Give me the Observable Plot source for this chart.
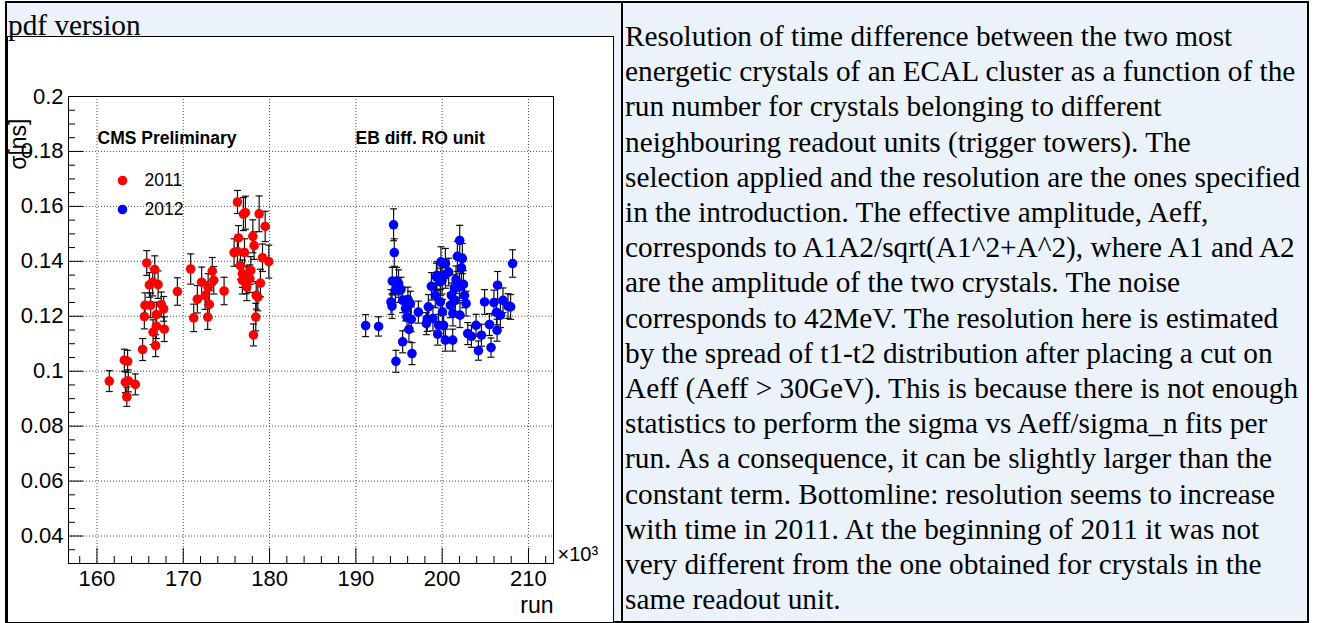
<!DOCTYPE html>
<html>
<head>
<meta charset="utf-8">
<script src="https://cdn.jsdelivr.net/npm/d3@7"></script>
<script src="https://cdn.jsdelivr.net/npm/@observablehq/plot@0.6"></script>
<style>
  html, body { margin: 0; padding: 0; background: #ffffff; width: 1319px; height: 623px; overflow: hidden; }
  #outer { position: absolute; left: 5px; top: 1px; width: 1304px; height: 622px; box-sizing: border-box;
           border: 2px solid #000; background: #ebf2fa; }
  #divider { position: absolute; left: 621px; top: 1px; width: 2px; height: 622px; background: #000; }
  #pdf { position: absolute; left: 8px; top: 8px; font-family: "Liberation Serif", "Times New Roman", serif;
         font-size: 29.3px; line-height: 35.2px; color: #000; white-space: nowrap; }
  #img { position: absolute; left: 7px; top: 36px; width: 607px; height: 587px; box-sizing: border-box;
         border: 1px solid #000; background: #fff; }
  #chart { position: absolute; left: 8px; top: 37px; width: 605px; height: 584px; }
  #desc { position: absolute; left: 625px; top: 19px; font-family: "Liberation Serif", "Times New Roman", serif;
          font-size: 29.3px; line-height: 35.2px; color: #000; white-space: nowrap; }
</style>
</head>
<body>
<div id="outer"></div>
<div id="divider"></div>
<div id="img"></div>
<div id="chart"></div>
<div id="pdf">pdf version</div>
<div id="desc">Resolution of time difference between the two most<br>energetic crystals of an ECAL cluster as a function of the<br>run number for crystals belonging to different<br>neighbouring readout units (trigger towers). The<br>selection applied and the resolution are the ones specified<br>in the introduction. The effective amplitude, Aeff,<br>corresponds to A1A2/sqrt(A1^2+A^2), where A1 and A2<br>are the amplitude of the two crystals. The noise<br>corresponds to 42MeV. The resolution here is estimated<br>by the spread of t1-t2 distribution after placing a cut on<br>Aeff (Aeff &gt; 30GeV). This is because there is not enough<br>statistics to perform the sigma vs Aeff/sigma_n fits per<br>run. As a consequence, it can be slightly larger than the<br>constant term. Bottomline: resolution seems to increase<br>with time in 2011. At the beginning of 2011 it was not<br>very different from the one obtained for crystals in the<br>same readout unit.</div>
<script>
// ---- Data (run numbers in units of 10^3) ----
const run2011 = [161.43,163.17,163.55,163.29,163.63,163.46,164.44,165.29,165.49,165.57,165.77,166.07,166.22,166.46,166.50,166.69,166.80,166.88,166.88,167.08,167.46,167.73,167.80,169.32,170.86,171.21,171.63,172.13,172.53,172.83,172.88,173.02,173.36,173.53,174.73,175.89,176.28,176.28,176.39,176.62,176.85,176.85,176.97,177.09,177.20,177.28,177.36,177.71,177.82,178.06,178.13,178.21,178.40,178.45,178.64,178.79,178.94,179.18,179.49,179.91];
const sigma2011 = [0.0964,0.1040,0.1036,0.0960,0.0965,0.0907,0.0952,0.1079,0.1199,0.1240,0.1394,0.1314,0.1240,0.1324,0.1142,0.1370,0.1093,0.1206,0.1164,0.1315,0.1243,0.1227,0.1153,0.1290,0.1372,0.1194,0.1262,0.1324,0.1275,0.1197,0.1305,0.1243,0.1364,0.1331,0.1292,0.1432,0.1616,0.1436,0.1485,0.1384,0.1355,0.1331,0.1572,0.1432,0.1577,0.1332,0.1307,0.1337,0.1367,0.1491,0.1132,0.1457,0.1197,0.1276,0.1270,0.1573,0.1321,0.1413,0.1527,0.1399];
const err2011 = [0.0038,0.0040,0.0040,0.0038,0.0040,0.0035,0.0038,0.0040,0.0045,0.0045,0.0045,0.0045,0.0045,0.0050,0.0045,0.0050,0.0040,0.0045,0.0045,0.0050,0.0045,0.0045,0.0045,0.0050,0.0055,0.0050,0.0050,0.0055,0.0050,0.0045,0.0050,0.0050,0.0050,0.0050,0.0050,0.0050,0.0042,0.0050,0.0045,0.0050,0.0050,0.0050,0.0060,0.0050,0.0060,0.0050,0.0050,0.0050,0.0050,0.0060,0.0040,0.0050,0.0050,0.0050,0.0050,0.0065,0.0050,0.0050,0.0055,0.0060];

const run2012 = [191.13,192.63,194.07,194.19,194.22,194.37,194.45,194.57,194.64,194.72,194.95,195.23,195.42,195.42,195.76,195.92,196.03,196.15,196.31,196.42,196.50,197.24,198.17,198.28,198.40,198.75,198.93,199.20,199.33,199.40,199.48,199.59,199.79,199.79,199.86,199.99,200.03,200.17,200.37,200.37,200.37,200.76,200.95,201.07,201.22,201.24,201.42,201.53,201.60,201.76,202.00,202.03,202.06,202.23,202.34,202.46,202.58,202.77,202.96,203.39,203.93,204.20,204.55,204.91,205.48,205.66,206.00,206.29,206.36,206.42,206.75,207.05,207.63,207.93,208.16];
const sigma2012 = [0.1166,0.1163,0.1252,0.1237,0.1328,0.1533,0.1432,0.1295,0.1036,0.1328,0.1319,0.1297,0.1258,0.1107,0.1228,0.1197,0.1261,0.1152,0.1246,0.1189,0.1064,0.1215,0.1173,0.1190,0.1234,0.1309,0.1192,0.1276,0.1343,0.1349,0.1135,0.1167,0.1325,0.1252,0.1398,0.1331,0.1216,0.1167,0.1392,0.1352,0.1113,0.1361,0.1240,0.1276,0.1113,0.1210,0.1301,0.1258,0.1333,0.1418,0.1307,0.1476,0.1204,0.1376,0.1410,0.1316,0.1276,0.1246,0.1137,0.1127,0.1167,0.1075,0.1131,0.1252,0.1170,0.1086,0.1250,0.1214,0.1149,0.1313,0.1204,0.1258,0.1237,0.1234,0.1392];
const err2012 = [0.0040,0.0035,0.0045,0.0045,0.0050,0.0058,0.0050,0.0045,0.0040,0.0050,0.0050,0.0045,0.0045,0.0040,0.0045,0.0045,0.0045,0.0045,0.0045,0.0045,0.0040,0.0040,0.0040,0.0045,0.0045,0.0050,0.0045,0.0045,0.0050,0.0050,0.0040,0.0040,0.0050,0.0045,0.0055,0.0050,0.0045,0.0040,0.0055,0.0050,0.0040,0.0050,0.0045,0.0045,0.0040,0.0045,0.0050,0.0045,0.0050,0.0055,0.0050,0.0055,0.0045,0.0050,0.0055,0.0050,0.0045,0.0045,0.0040,0.0040,0.0040,0.0035,0.0040,0.0045,0.0040,0.0035,0.0045,0.0045,0.0040,0.0050,0.0045,0.0045,0.0045,0.0045,0.0050];

const xMajor = [160, 170, 180, 190, 200, 210];
const xMinor = [158, 162, 164, 166, 168, 172, 174, 176, 178, 182, 184, 186, 188, 192, 194, 196, 198, 202, 204, 206, 208, 212];
const yMajor = [0.04, 0.06, 0.08, 0.1, 0.12, 0.14, 0.16, 0.18, 0.2];
const yMinor = [0.035, 0.045, 0.05, 0.055, 0.065, 0.07, 0.075, 0.085, 0.09, 0.095, 0.105, 0.11, 0.115, 0.125, 0.13, 0.135, 0.145, 0.15, 0.155, 0.165, 0.17, 0.175, 0.185, 0.19, 0.195];
const seriesNames = ["2011", "2012"];
const seriesColors = ["#ff0000", "#0000ff"];

const d2011 = run2011.map((r, i) => ({run: r, s: sigma2011[i], e: err2011[i]}));
const d2012 = run2012.map((r, i) => ({run: r, s: sigma2012[i], e: err2012[i]}));

const W = 605, H = 584;
const mL = 60, mR = 60, mT = 59, mB = 58;
const fw = W - mL - mR, fh = H - mT - mB;

const cap = {draw(ctx) { ctx.moveTo(-3.5, 0); ctx.lineTo(3.5, 0); }};

function errMarks(data, color) {
  return [
    Plot.ruleX(data, {x: "run", y1: d => d.s - d.e, y2: d => d.s + d.e, stroke: "#111", strokeWidth: 1.2}),
    Plot.dot(data, {x: "run", y: d => d.s - d.e, symbol: cap, r: 3, stroke: "#111", strokeWidth: 1.2, fill: "none"}),
    Plot.dot(data, {x: "run", y: d => d.s + d.e, symbol: cap, r: 3, stroke: "#111", strokeWidth: 1.2, fill: "none"}),
    Plot.dot(data, {x: "run", y: "s", r: 4.8, fill: color, stroke: "none"})
  ];
}

const font = "'Liberation Sans', Arial, Helvetica, sans-serif";

const chart = Plot.plot({
  width: W, height: H,
  marginLeft: mL, marginRight: mR, marginTop: mT, marginBottom: mB,
  style: {fontFamily: font, background: "transparent", color: "#000", overflow: "visible"},
  x: {domain: [156.7, 212.9], label: null},
  y: {domain: [0.03, 0.2], label: null},
  marks: [
    Plot.gridX(xMajor, {stroke: "#000", strokeOpacity: 0.7, strokeDasharray: "1,2", strokeWidth: 1}),
    Plot.gridY(yMajor.filter(v => v < 0.2), {stroke: "#000", strokeOpacity: 0.7, strokeDasharray: "1,2", strokeWidth: 1}),
    Plot.tickX(xMajor, {x: d => d, insetTop: fh - 15, stroke: "#000"}),
    Plot.tickX(xMinor, {x: d => d, insetTop: fh - 7, stroke: "#000"}),
    Plot.tickY(yMajor, {y: d => d, insetRight: fw - 15, stroke: "#000"}),
    Plot.tickY(yMinor, {y: d => d, insetRight: fw - 7, stroke: "#000"}),
    Plot.axisX(xMajor, {tickSize: 0, tickPadding: 7, fontSize: 22, label: null, tickFormat: d => String(d)}),
    Plot.axisY(yMajor, {tickSize: 0, tickPadding: 5, fontSize: 22, label: null, tickFormat: d => String(+d.toFixed(3))}),
    Plot.frame({stroke: "#000", strokeWidth: 1}),
    ...errMarks(d2011, seriesColors[0]),
    ...errMarks(d2012, seriesColors[1]),
    // annotations
    Plot.text(["CMS Preliminary"], {frameAnchor: "top-left", lineAnchor: "middle", dx: 29, dy: 42, text: d => d, textAnchor: "start", fontWeight: "bold", fontSize: 17.5}),
    Plot.text(["EB diff. RO unit"], {frameAnchor: "top-left", lineAnchor: "middle", dx: 287, dy: 42, text: d => d, textAnchor: "start", fontWeight: "bold", fontSize: 17.5}),
    // legend
    Plot.dot([seriesNames[0]], {frameAnchor: "top-left", dx: 54, dy: 84, r: 4.8, fill: seriesColors[0]}),
    Plot.text([seriesNames[0]], {frameAnchor: "top-left", lineAnchor: "middle", dx: 76, dy: 84, text: d => d, textAnchor: "start", fontSize: 17.5}),
    Plot.dot([seriesNames[1]], {frameAnchor: "top-left", dx: 54, dy: 113, r: 4.8, fill: seriesColors[1]}),
    Plot.text([seriesNames[1]], {frameAnchor: "top-left", lineAnchor: "middle", dx: 76, dy: 113, text: d => d, textAnchor: "start", fontSize: 17.5}),
    // axis titles
    Plot.text(["×10³"], {frameAnchor: "bottom-right", lineAnchor: "middle", dx: 4, dy: -9, text: d => d, textAnchor: "start", fontSize: 20}),
    Plot.text(["run"], {frameAnchor: "bottom-right", lineAnchor: "middle", dx: 0, dy: 42, text: d => d, textAnchor: "end", fontSize: 23}),
    Plot.text(["σ[ns]"], {frameAnchor: "top-left", lineAnchor: "middle", dx: -49.5, dy: 22, text: d => d, textAnchor: "end", rotate: -90, fontSize: 23})
  ]
});
document.getElementById("chart").appendChild(chart);
</script>
</body>
</html>
